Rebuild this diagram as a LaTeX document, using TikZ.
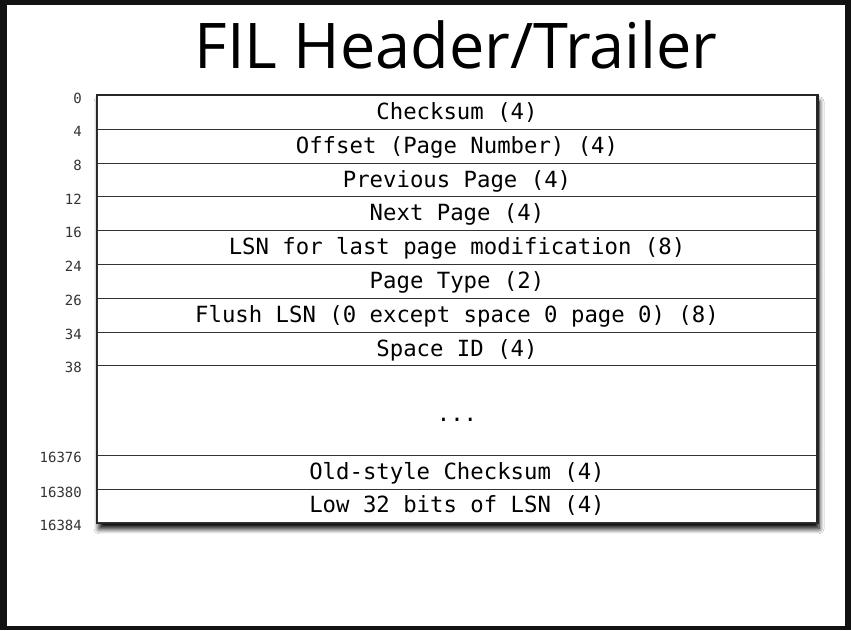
\documentclass[tikz,border=0pt]{standalone}
\usepackage{fontspec}
\setmonofont{DejaVu Sans Mono}
\newfontfamily\titlefont{Open Sans}
\usetikzlibrary{shadows.blur}

\begin{document}
\begin{tikzpicture}[x=1pt,y=-1pt,
  field/.style={draw=black!80,line width=1pt,minimum width=720pt,minimum height=33.8pt,
    inner sep=0pt,text height=17pt,text depth=3pt,font=\fontsize{22.3}{24}\selectfont\ttfamily},
  offs/.style={anchor=east,inner sep=0pt,text=black!80,font=\fontsize{14}{16}\selectfont\ttfamily}]
\fill[black!93] (0,0) rectangle (851,630);
\fill[white] (7,5) rectangle (845,626);

\node[font=\fontsize{63}{70}\selectfont\titlefont] (title) at (456,45) {FIL Header/Trailer};

% the page box with its shadow
\node[draw=black!85,line width=1.5pt,fill=white,minimum width=720pt,minimum height=427.3pt,inner sep=0pt,
      blur shadow={shadow xshift=2pt,shadow yshift=-6pt,shadow blur radius=5pt,shadow blur steps=8,shadow opacity=100}]
      (page) at (457,309.15) {};

\node[field] (chk)   at (457,112.4) {Checksum (4)};
\node[field] (pgno)  at (457,146.2) {Offset (Page Number) (4)};
\node[field] (prev)  at (457,180.0) {Previous Page (4)};
\node[field] (next)  at (457,213.8) {Next Page (4)};
\node[field] (lsn)   at (457,247.6) {LSN for last page modification (8)};
\node[field] (ptype) at (457,281.4) {Page Type (2)};
\node[field] (flush) at (457,315.2) {Flush LSN (0 except space 0 page 0) (8)};
\node[field] (space) at (457,349.0) {Space ID (4)};
\node[field,minimum height=89.3pt,text height=24pt] (gap) at (457,410.55) {...};
\node[field] (oldck) at (457,472.1) {Old-style Checksum (4)};
\node[field] (low)   at (457,505.9) {Low 32 bits of LSN (4)};
\draw[black!85,line width=1.5pt] (page.north west) rectangle (page.south east);

% byte offsets
\node[offs] (o0)  at (82,98) {0};
\node[offs] (o4)  at (82,131) {4};
\node[offs] (o8)  at (82,165) {8};
\node[offs] (o12) at (82,199) {12};
\node[offs] (o16) at (82,232) {16};
\node[offs] (o24) at (82,266) {24};
\node[offs] (o26) at (82,300) {26};
\node[offs] (o34) at (82,334) {34};
\node[offs] (o38) at (82,367) {38};
\node[offs] (o16376) at (82,457) {16376};
\node[offs] (o16380) at (82,492) {16380};
\node[offs] (o16384) at (82,525) {16384};
\end{tikzpicture}
\end{document}
